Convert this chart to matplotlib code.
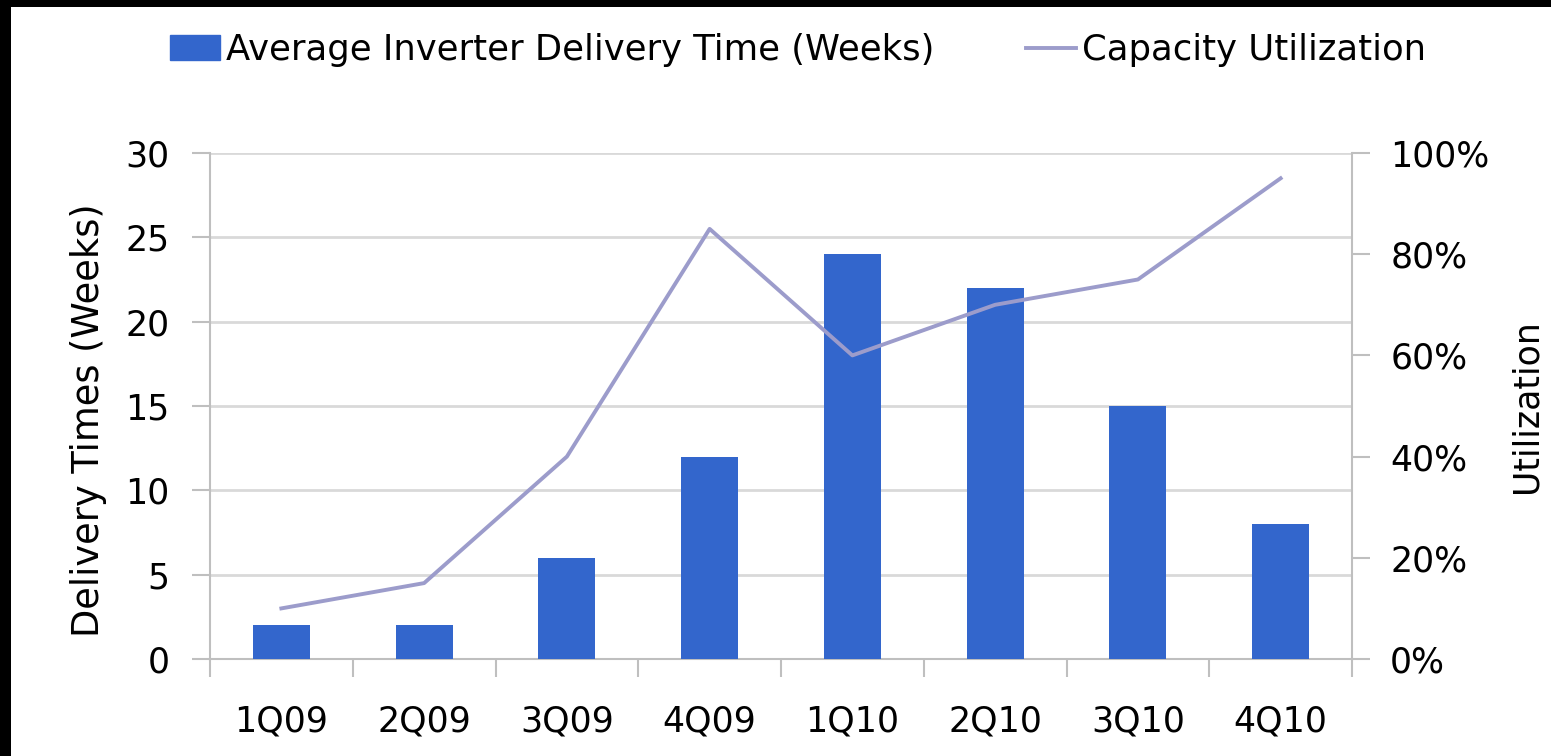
import numpy as np
import matplotlib.pyplot as plt
from matplotlib.lines import Line2D
from matplotlib.patches import Patch

# data
quarters = ["1Q09", "2Q09", "3Q09", "4Q09", "1Q10", "2Q10", "3Q10", "4Q10"]
delivery_weeks = [2, 2, 6, 12, 24, 22, 15, 8]
utilization = [10, 15, 40, 85, 60, 70, 75, 95]

BAR_COLOR = "#3366CC"
LINE_COLOR = "#9C9CCB"
GRID_COLOR = "#D9D9D9"
FS = 25

plt.rcParams["font.family"] = ["DejaVu Sans"]

fig = plt.figure(figsize=(15.51, 7.56), dpi=100)
fig.patch.set_facecolor("black")
# white canvas inside the black border
bg = fig.add_axes([11 / 1551, 0, 1 - 11 / 1551, 1 - 7 / 756])
bg.set_facecolor("white")
bg.set_xticks([])
bg.set_yticks([])
for s in bg.spines.values():
    s.set_visible(False)

left, right, top, bottom = 210, 1352, 153, 659
ax = fig.add_axes([left / 1551, 1 - bottom / 756, (right - left) / 1551, (bottom - top) / 756])
ax.set_facecolor("none")
x = np.arange(len(quarters))
ax.bar(x, delivery_weeks, width=0.4, color=BAR_COLOR, zorder=3)
ax.set_xlim(-0.5, len(quarters) - 0.5)
ax.set_ylim(0, 30)
ax.set_yticks(range(0, 31, 5))
ax.yaxis.grid(True, color=GRID_COLOR, lw=2, zorder=0)
ax.set_axisbelow(True)
ax.set_xticks(x)
ax.set_xticklabels(quarters)
ax.set_xticks(np.arange(-0.5, len(quarters)), minor=True)
ax.tick_params(axis="x", which="major", length=0, pad=33, labelsize=FS)
ax.tick_params(axis="x", which="minor", length=13, width=1.5, color="#BFBFBF")
ax.tick_params(axis="y", length=13, width=1.5, color="#BFBFBF", labelsize=FS, pad=16)
for s in ["top", "right"]:
    ax.spines[s].set_visible(False)
for s in ["left", "bottom"]:
    ax.spines[s].set_color("#BFBFBF")
    ax.spines[s].set_linewidth(1.5)
ax.set_ylabel("Delivery Times (Weeks)", fontsize=26.5)
ax.yaxis.set_label_coords(-0.09, 0.472)

ax2 = ax.twinx()
ax2.plot(x, utilization, color=LINE_COLOR, lw=2.8, zorder=4)
ax2.set_ylim(0, 100)
ax2.set_yticks(range(0, 101, 20))
ax2.set_yticklabels([f"{v}%" for v in range(0, 101, 20)])
ax2.tick_params(axis="y", length=13, width=1.5, color="#BFBFBF", labelsize=FS, pad=14.5)
for s in ["top", "left", "bottom"]:
    ax2.spines[s].set_visible(False)
ax2.spines["right"].set_color("#BFBFBF")
ax2.spines["right"].set_linewidth(1.5)
ax2.set_ylabel("Utilization", fontsize=FS)
ax2.yaxis.set_label_coords(1.138, 0.5)

handles = [Patch(color=BAR_COLOR), Line2D([0], [0], color=LINE_COLOR, lw=2.8)]
labels = ["Average Inverter Delivery Time (Weeks)", "Capacity Utilization"]
fig.legend(handles, labels, loc="center left", bbox_to_anchor=(170 / 1551, 1 - 50 / 756),
           ncol=2, frameon=False, fontsize=25.5, handlelength=1.4, handletextpad=0.17,
           columnspacing=2.6, borderpad=0, borderaxespad=0)

fig.savefig("out.png", dpi=100, facecolor=fig.get_facecolor())
